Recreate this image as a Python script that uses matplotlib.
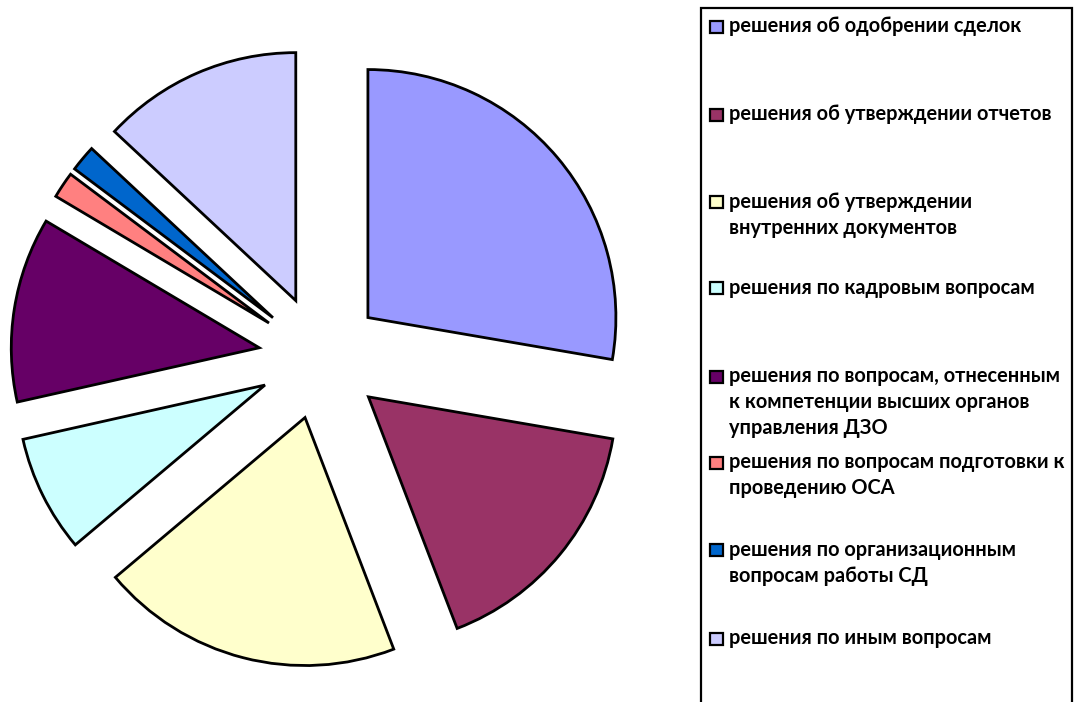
import matplotlib
matplotlib.use("Agg")
import matplotlib.pyplot as plt
from matplotlib.patches import Rectangle

categories = [
    "решения об одобрении сделок",
    "решения об утверждении отчетов",
    "решения об утверждении\nвнутренних документов",
    "решения по кадровым вопросам",
    "решения по вопросам, отнесенным\nк компетенции высших органов\nуправления ДЗО",
    "решения по вопросам подготовки к\nпроведению ОСА",
    "решения по организационным\nвопросам работы СД",
    "решения по иным вопросам",
]
values = [27.6, 16.4, 19.6, 7.6, 12.0, 1.7, 1.7, 13.0]
colors = ["#9999FF", "#993366", "#FFFFCC", "#CCFFFF", "#660066", "#FF8080", "#0066CC", "#CCCCFF"]

W, H = 1077, 702
R = 248
fig = plt.figure(figsize=(W / 100, H / 100), dpi=100)
ax = fig.add_axes([0, 0, 1, 1])

ax.pie(values, colors=colors, startangle=90, counterclock=False,
       explode=[0.25 * R] * len(values), radius=R, center=(320.5, H - 357.5),
       wedgeprops=dict(edgecolor="black", linewidth=2.0, joinstyle="miter"))
ax.set_xlim(0, W)
ax.set_ylim(0, H)
ax.set_aspect("auto")
ax.axis("off")

# legend box
ax.add_patch(Rectangle((700.5, -20), 371, H - 7.5 + 20, facecolor="white",
                       edgecolor="black", linewidth=1.6, clip_on=False))

family = ["Lato", "Open Sans", "DejaVu Sans"]
probe = ax.text(0, 0, "решения по вопросам, отнесенным", fontsize=10,
                fontweight="bold", family=family)
fig.canvas.draw()
w = probe.get_window_extent().width
probe.remove()
fs = 10 * 333 / w

centers = [27, 115, 202, 288, 377, 463, 550, 639]
for lab, col, yc in zip(categories, colors, centers):
    ax.add_patch(Rectangle((710, H - yc - 6.4), 12.8, 12.8, facecolor=col,
                           edgecolor="black", linewidth=1.6))
    for i, line in enumerate(lab.split("\n")):
        ax.text(729, H - (yc + 5.5 + 26 * i), line, fontsize=fs, fontweight="bold",
                family=family, va="baseline", ha="left", color="black")

fig.savefig("out.png", dpi=100)
